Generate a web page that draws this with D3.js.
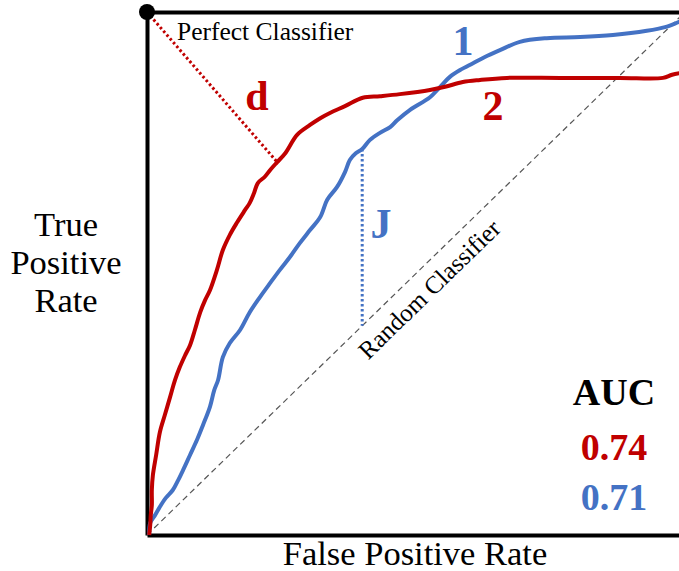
<!DOCTYPE html>
<html>
<head>
<meta charset="utf-8">
<script src="https://cdn.jsdelivr.net/npm/d3@7"></script>
<style>
  body { margin: 0; background: #fff; }
</style>
</head>
<body>
<script>
// ROC curve of classifier 2 (red)
var fpr2 = [0.004, 0.006, 0.007, 0.009, 0.009, 0.011, 0.017, 0.024, 0.033, 0.043, 0.052, 0.061, 0.071, 0.080,
  0.089, 0.099, 0.108, 0.117, 0.130, 0.141, 0.154, 0.167, 0.182, 0.191, 0.199, 0.206, 0.219, 0.229, 0.242,
  0.257, 0.279, 0.303, 0.322, 0.340, 0.368, 0.401, 0.433, 0.470, 0.526, 0.554, 0.587, 0.619, 0.669, 0.768,
  0.879, 0.959, 0.976, 1.0];
var tpr2 = [0, 0.019, 0.038, 0.057, 0.086, 0.115, 0.153, 0.197, 0.229, 0.264, 0.296, 0.321, 0.344, 0.363,
  0.392, 0.426, 0.449, 0.468, 0.507, 0.545, 0.574, 0.597, 0.621, 0.635, 0.654, 0.673, 0.685, 0.698, 0.713,
  0.730, 0.765, 0.784, 0.797, 0.807, 0.820, 0.836, 0.839, 0.843, 0.851, 0.857, 0.866, 0.870, 0.874, 0.874,
  0.874, 0.874, 0.880, 0.885];

// ROC curve of classifier 1 (blue)
var fpr1 = [0.004, 0.006, 0.015, 0.024, 0.035, 0.048, 0.058, 0.067, 0.080, 0.093, 0.104, 0.117, 0.125, 0.132,
  0.141, 0.154, 0.173, 0.191, 0.210, 0.229, 0.247, 0.266, 0.284, 0.303, 0.322, 0.335, 0.353, 0.368, 0.377,
  0.388, 0.400, 0.414, 0.433, 0.452, 0.465, 0.489, 0.526, 0.545, 0.563, 0.582, 0.606, 0.628, 0.656, 0.693,
  0.743, 0.805, 0.866, 0.929, 0.963, 0.989, 1.0];
var tpr1 = [0, 0.023, 0.038, 0.054, 0.071, 0.086, 0.105, 0.124, 0.153, 0.182, 0.210, 0.245, 0.277, 0.296,
  0.340, 0.367, 0.392, 0.426, 0.455, 0.482, 0.507, 0.532, 0.558, 0.583, 0.608, 0.641, 0.665, 0.694, 0.717,
  0.730, 0.738, 0.755, 0.769, 0.780, 0.793, 0.813, 0.837, 0.857, 0.876, 0.889, 0.902, 0.914, 0.927, 0.943,
  0.950, 0.952, 0.956, 0.964, 0.971, 0.981, 0.985];

var aucLabels = ["0.74", "0.71"];
var perfectPoint = [0, 1];
var dPoint = [0.242, 0.713];   // closest point of curve 2 to the perfect classifier
var jFpr = 0.400;              // Youden's J of curve 1
var jTpr = 0.738;

var red = "#C00000", blue = "#4472C4";
var serif = "'Liberation Serif', 'Times New Roman', Times, serif";

var width = 679, height = 571;
var svg = d3.select("body").append("svg")
  .attr("width", width)
  .attr("height", height)
  .attr("font-family", serif);

var x = d3.scaleLinear().domain([0, 1]).range([147, 685]);
var y = d3.scaleLinear().domain([0, 1]).range([535, 12]);

// frame drawn with bare axes (no ticks)
function frame(axis, tx, ty) {
  var g = svg.append("g")
    .attr("transform", "translate(" + tx + "," + ty + ")")
    .call(axis.ticks(0).tickSizeOuter(0));
  g.select(".domain").attr("stroke", "#000").attr("stroke-width", 4);
}
frame(d3.axisBottom(x), 0, y(0));
frame(d3.axisTop(x), 0, y(1));
frame(d3.axisLeft(y), x(0), 0);
frame(d3.axisRight(y), x(1), 0);

// random classifier diagonal
svg.append("line")
  .attr("x1", x(0)).attr("y1", y(0))
  .attr("x2", x(1)).attr("y2", y(1))
  .attr("stroke", "#555")
  .attr("stroke-width", 1.2)
  .attr("stroke-dasharray", "6,4");

var angle = Math.atan2(y(0) - y(1), x(1) - x(0)) * 180 / Math.PI;
svg.append("text")
  .attr("transform", "translate(" + x(0.498) + "," + y(0.498) + ") rotate(" + (-angle) + ")")
  .attr("y", 29)
  .attr("text-anchor", "middle")
  .attr("font-family", serif)
  .attr("font-size", "25px")
  .attr("fill", "#000")
  .text("Random Classifier");

// d and J helper lines
svg.append("line")
  .attr("x1", x(perfectPoint[0])).attr("y1", y(perfectPoint[1]))
  .attr("x2", x(dPoint[0])).attr("y2", y(dPoint[1]))
  .attr("stroke", red)
  .attr("stroke-width", 3)
  .attr("stroke-dasharray", "2.5,2.5");

svg.append("line")
  .attr("x1", x(jFpr)).attr("y1", y(jTpr))
  .attr("x2", x(jFpr)).attr("y2", y(jFpr))
  .attr("stroke", blue)
  .attr("stroke-width", 3)
  .attr("stroke-dasharray", "2.5,2.5");

// ROC curves
var line = d3.line()
  .x(function (d) { return x(d[0]); })
  .y(function (d) { return y(d[1]); })
  .curve(d3.curveCatmullRom.alpha(0.5));

svg.append("path")
  .datum(d3.zip(fpr1, tpr1))
  .attr("d", line)
  .attr("fill", "none")
  .attr("stroke", blue)
  .attr("stroke-width", 4)
  .attr("stroke-linejoin", "round");

svg.append("path")
  .datum(d3.zip(fpr2, tpr2))
  .attr("d", line)
  .attr("fill", "none")
  .attr("stroke", red)
  .attr("stroke-width", 4)
  .attr("stroke-linejoin", "round");

// perfect classifier dot
svg.append("circle")
  .attr("cx", x(perfectPoint[0]))
  .attr("cy", y(perfectPoint[1]))
  .attr("r", 8)
  .attr("fill", "#000");

svg.append("text")
  .attr("x", 177).attr("y", 40)
  .attr("font-family", serif)
  .attr("font-size", "25.5px")
  .text("Perfect Classifier");

// curve labels
function bigLabel(txt, px, py, col) {
  svg.append("text")
    .attr("x", px).attr("y", py)
    .attr("text-anchor", "middle")
    .attr("font-family", serif)
    .attr("font-size", "42px")
    .attr("font-weight", "bold")
    .attr("fill", col)
    .text(txt);
}
bigLabel("1", 463, 55, blue);
bigLabel("2", 493, 120, red);
bigLabel("d", 257, 110, red);
bigLabel("J", 381, 238, blue);

// axis titles
svg.append("text")
  .attr("x", 415).attr("y", 565)
  .attr("text-anchor", "middle")
  .attr("font-family", serif)
  .attr("font-size", "34.5px")
  .text("False Positive Rate");

var yt = svg.append("text")
  .attr("text-anchor", "middle")
  .attr("font-family", serif)
  .attr("font-size", "34.5px");
["True", "Positive", "Rate"].forEach(function (w, i) {
  yt.append("tspan").attr("x", 66).attr("y", 236 + i * 38).text(w);
});

// AUC block
svg.append("text")
  .attr("x", 614).attr("y", 405)
  .attr("text-anchor", "middle")
  .attr("font-family", serif)
  .attr("font-size", "38px")
  .attr("font-weight", "bold")
  .text("AUC");
svg.selectAll("text.auc")
  .data(aucLabels)
  .enter()
  .append("text")
  .attr("class", "auc")
  .attr("x", 614)
  .attr("y", function (d, i) { return 460 + i * 50; })
  .attr("text-anchor", "middle")
  .attr("font-family", serif)
  .attr("font-size", "38px")
  .attr("font-weight", "bold")
  .attr("fill", function (d, i) { return i === 0 ? red : blue; })
  .text(function (d) { return d; });
</script>
</body>
</html>
